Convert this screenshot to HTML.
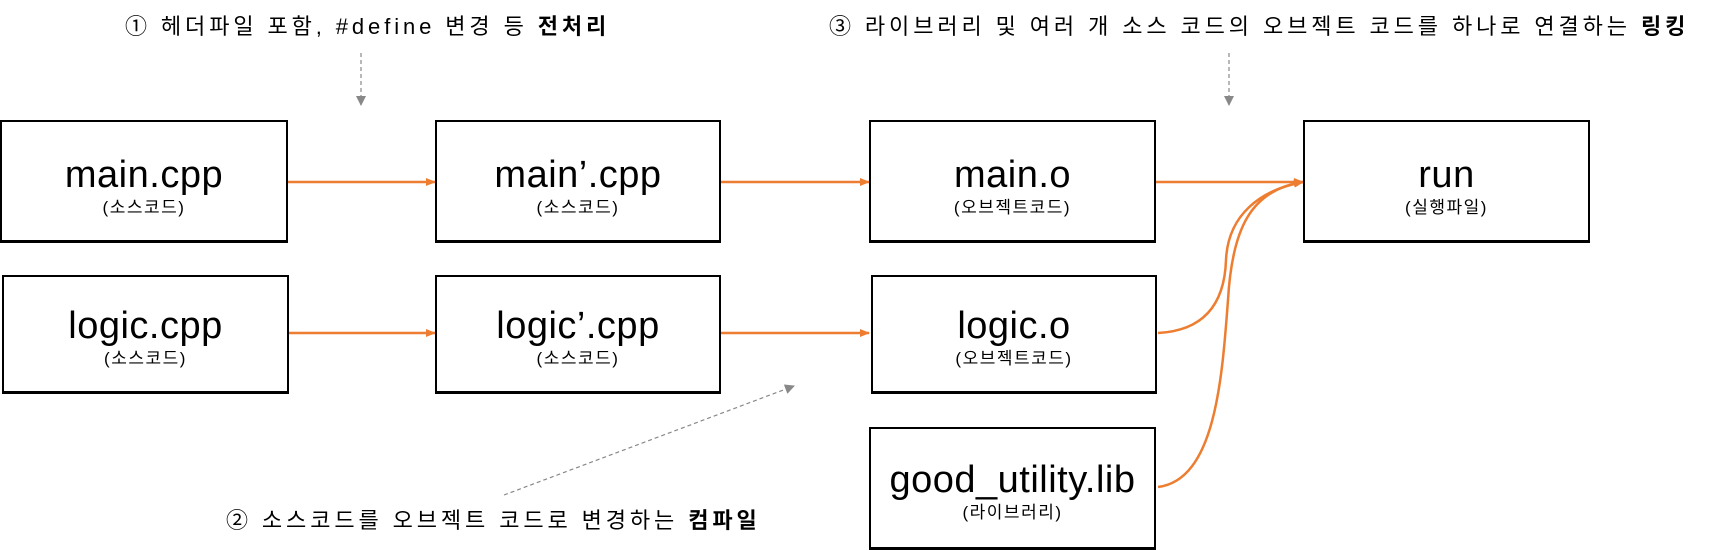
<!DOCTYPE html>
<html><head><meta charset="utf-8"><style>
body{margin:0;width:1720px;height:546px;background:#fff;position:relative;overflow:hidden;font-family:"Liberation Sans","Noto Sans CJK KR",sans-serif;}
.b{position:absolute;box-sizing:border-box;border:2px solid #000;border-bottom-width:3px;text-align:center;background:#fff}
.b .m{font-size:38px;line-height:40px;margin-top:33px;color:#000;white-space:nowrap;letter-spacing:0.5px}
.b .s{font-size:17px;line-height:20px;margin-top:3px;color:#000;letter-spacing:1.5px}
.t{position:absolute;font-size:22px;white-space:nowrap;color:#000;letter-spacing:3.9px}
svg{position:absolute;left:0;top:0}
</style></head><body>
<svg width="1720" height="546">
<defs>
<marker id="o" markerWidth="10" markerHeight="8" refX="9" refY="4" orient="auto" markerUnits="userSpaceOnUse"><path d="M0,0 L10,4 L0,8 Z" fill="#ed7d31"/></marker>
<marker id="g" markerWidth="10" markerHeight="10" refX="9" refY="5" orient="auto" markerUnits="userSpaceOnUse"><path d="M0,0 L10,5 L0,10 Z" fill="#888"/></marker>
</defs>
<g stroke="#ed7d31" stroke-width="2.5" fill="none" marker-end="url(#o)">
<line x1="288" y1="182" x2="435" y2="182"/>
<line x1="721" y1="182" x2="869" y2="182"/>
<line x1="1156" y1="182" x2="1303" y2="182"/>
<line x1="288" y1="333" x2="435" y2="333"/>
<line x1="721" y1="333" x2="869" y2="333"/>
<path d="M1158,333 C1215,330 1225,290 1226,260 C1228,215 1260,190 1303,182"/>
<path d="M1158,487 C1215,480 1222,380 1228,300 C1232,230 1250,190 1303,182"/>
</g>
<g stroke="#888" stroke-width="1.2" fill="none" stroke-dasharray="4,3" marker-end="url(#g)">
<line x1="361" y1="53" x2="361" y2="105"/>
<line x1="1229" y1="53" x2="1229" y2="105"/>
<line x1="504" y1="495" x2="794" y2="386"/>
</g>
</svg>
<div class="t" style="left:125px;top:9px">① 헤더파일 포함, #define 변경 등 <b>전처리</b></div>
<div class="t" style="left:829px;top:9px">③ 라이브러리 및 여러 개 소스 코드의 오브젝트 코드를 하나로 연결하는 <b>링킹</b></div>
<div class="t" style="left:226px;top:503px">② 소스코드를 오브젝트 코드로 변경하는 <b>컴파일</b></div>
<div class="b" style="left:0;top:120px;width:288px;height:123px"><div class="m">main.cpp</div><div class="s">(소스코드)</div></div>
<div class="b" style="left:435px;top:120px;width:286px;height:123px"><div class="m">main’.cpp</div><div class="s">(소스코드)</div></div>
<div class="b" style="left:869px;top:120px;width:287px;height:123px"><div class="m">main.o</div><div class="s">(오브젝트코드)</div></div>
<div class="b" style="left:1303px;top:120px;width:287px;height:123px"><div class="m">run</div><div class="s">(실행파일)</div></div>
<div class="b" style="left:2px;top:275px;width:287px;height:119px"><div class="m" style="margin-top:29px">logic.cpp</div><div class="s">(소스코드)</div></div>
<div class="b" style="left:435px;top:275px;width:286px;height:119px"><div class="m" style="margin-top:29px">logic’.cpp</div><div class="s">(소스코드)</div></div>
<div class="b" style="left:871px;top:275px;width:286px;height:119px"><div class="m" style="margin-top:29px">logic.o</div><div class="s">(오브젝트코드)</div></div>
<div class="b" style="left:869px;top:427px;width:287px;height:123px"><div class="m" style="margin-top:31px">good_utility.lib</div><div class="s">(라이브러리)</div></div>
</body></html>
